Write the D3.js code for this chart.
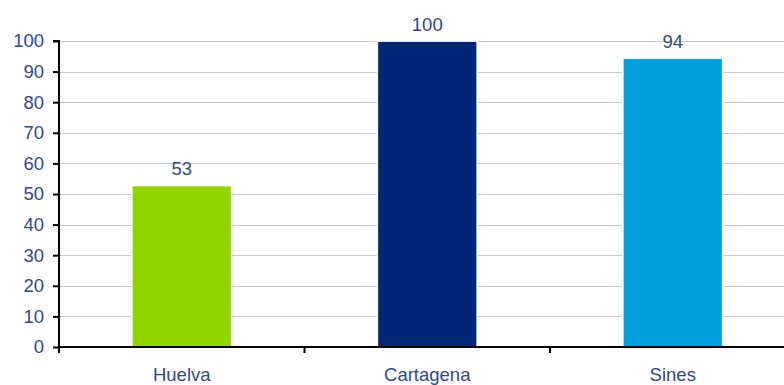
<!DOCTYPE html>
<html><head><meta charset="utf-8">
<script src="https://cdn.jsdelivr.net/npm/d3@7"></script>
<style>body{margin:0;background:#fff;}svg{display:block;font-family:"Liberation Sans",Arial,sans-serif;}</style>
</head><body>
<svg id="c" width="784" height="385"></svg>
<script>
const categories = ["Huelva", "Cartagena", "Sines"];
const values = [52.5, 99.7, 94.1];
const valueLabels = ["53", "100", "94"];
const colors = ["#92d400", "#002776", "#00a1de"];
const yTicks = [0,10,20,30,40,50,60,70,80,90,100];

const svg = d3.select("#c");
const x0 = 59, xEnd = 795.5, yBottom = 347, yTop = 41;
const x = d3.scaleBand().domain(categories).range([x0, xEnd]).paddingInner(0.6).paddingOuter(0.3);
const y = d3.scaleLinear().domain([0,100]).range([yBottom, yTop]);
const textColor = "#2e4a8c";
const fs = 18.5;

// gridlines
svg.append("g").selectAll("line").data(yTicks.filter(d=>d>0)).join("line")
  .attr("x1", x0).attr("x2", 784).attr("y1", d=>Math.round(y(d))+0.5).attr("y2", d=>Math.round(y(d))+0.5)
  .attr("stroke", "#c8c8c8").attr("stroke-width", 1);

// bars
svg.append("g").selectAll("rect").data(categories).join("rect")
  .attr("x", d=>x(d)).attr("width", x.bandwidth())
  .attr("y", (d,i)=>y(values[i])).attr("height", (d,i)=>yBottom - y(values[i]))
  .attr("fill", (d,i)=>colors[i]).attr("stroke", "#fff").attr("stroke-width", 3)
  .style("paint-order", "stroke");

// value labels
svg.append("g").selectAll("text").data(categories).join("text")
  .attr("x", d=>x(d)+x.bandwidth()/2).attr("y", (d,i)=>y(values[i]) - 11)
  .attr("text-anchor", "middle").attr("fill", textColor).attr("font-size", fs)
  .text((d,i)=>valueLabels[i]);

// y axis
const yAxis = d3.axisLeft(y).tickValues(yTicks).tickSize(6).tickPadding(9);
const gy = svg.append("g").attr("transform", `translate(${x0},0)`).call(yAxis);
gy.select(".domain").attr("stroke", "#000").attr("stroke-width", 2).attr("d", `M-6,${yTop}H0V${yBottom+6}`);
gy.selectAll(".tick line").attr("stroke", "#000").attr("stroke-width", 2);
gy.selectAll(".tick text").attr("fill", textColor).attr("font-size", fs).attr("font-family", "Liberation Sans, Arial, sans-serif");

// x axis
const xb = d3.scaleLinear().domain([0,3]).range([x0, xEnd]);
const gx = svg.append("g");
gx.append("line").attr("x1", x0).attr("x2", 784).attr("y1", yBottom).attr("y2", yBottom).attr("stroke", "#000").attr("stroke-width", 2);
gx.selectAll("line.t").data([0,1,2]).join("line").attr("class","t")
  .attr("x1", d=>xb(d)).attr("x2", d=>xb(d)).attr("y1", yBottom).attr("y2", yBottom+6)
  .attr("stroke", "#000").attr("stroke-width", 2);
gx.selectAll("text").data(categories).join("text")
  .attr("x", d=>x(d)+x.bandwidth()/2).attr("y", 381)
  .attr("text-anchor", "middle").attr("fill", textColor).attr("font-size", fs)
  .text(d=>d);
</script>
</body></html>
